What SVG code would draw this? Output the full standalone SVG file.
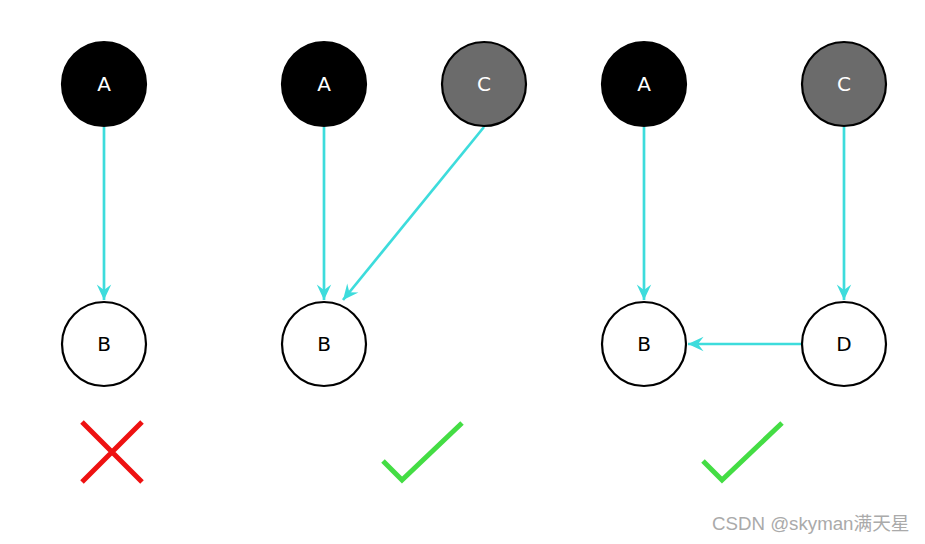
<svg xmlns="http://www.w3.org/2000/svg" width="925" height="544" viewBox="0 0 925 544">
<style>
.node circle{stroke:#000;stroke-width:2.2}
.w circle{fill:#fff}
.k circle{fill:#000}
.g circle{fill:#6b6b6b}
.node text{font-family:"DejaVu Sans",sans-serif;font-size:20px;text-anchor:middle;dominant-baseline:central}
.w text{fill:#000}
.k text,.g text{fill:#fff}
.edge{stroke:#3ddcdc;stroke-width:2.7;fill:none}
.cross{stroke:#ee1111;stroke-width:5;fill:none}
.check{stroke:#44dd44;stroke-width:5;fill:none}
</style>
<defs>
<marker id="arr" markerUnits="userSpaceOnUse" markerWidth="20" markerHeight="20" viewBox="-16 -8 18 16" refX="0" refY="0" orient="auto">
<path d="M0,0 L-14,-6.5 L-9,0 L-14,6.5 Z" fill="#3ddcdc"/>
</marker>
</defs>
<rect width="925" height="544" fill="#fff"/>
<g id="connectors">
<line class="edge" x1="104" y1="127" x2="104" y2="300" marker-end="url(#arr)"/>
<line class="edge" x1="324" y1="127" x2="324" y2="300" marker-end="url(#arr)"/>
<line class="edge" x1="484" y1="127" x2="343" y2="300" marker-end="url(#arr)"/>
<line class="edge" x1="644" y1="127" x2="644" y2="300" marker-end="url(#arr)"/>
<line class="edge" x1="844" y1="127" x2="844" y2="300" marker-end="url(#arr)"/>
<line class="edge" x1="801" y1="344" x2="688" y2="344" marker-end="url(#arr)"/>
</g>
<g id="g1A" class="node k"><circle cx="104" cy="84" r="42"/><text x="104" y="84">A</text></g>
<g id="g1B" class="node w"><circle cx="104" cy="344" r="42"/><text x="104" y="344">B</text></g>
<g id="g2A" class="node k"><circle cx="324" cy="84" r="42"/><text x="324" y="84">A</text></g>
<g id="g2C" class="node g"><circle cx="484" cy="84" r="42"/><text x="484" y="84">C</text></g>
<g id="g2B" class="node w"><circle cx="324" cy="344" r="42"/><text x="324" y="344">B</text></g>
<g id="g3A" class="node k"><circle cx="644" cy="84" r="42"/><text x="644" y="84">A</text></g>
<g id="g3C" class="node g"><circle cx="844" cy="84" r="42"/><text x="844" y="84">C</text></g>
<g id="g3B" class="node w"><circle cx="644" cy="344" r="42"/><text x="644" y="344">B</text></g>
<g id="g3D" class="node w"><circle cx="844" cy="344" r="42"/><text x="844" y="344">D</text></g>
<g id="marks">
<path class="cross" d="M82,422 L142,482 M82,482 L142,422"/>
<path class="check" d="M383,461 L402,480 L462,423"/>
<path class="check" d="M703,461 L722,480 L782,423"/>
</g>
<text x="712" y="530" font-family="'Liberation Sans','Noto Sans CJK SC',sans-serif" font-size="18.7" fill="#aaaaaa">CSDN @skyman满天星</text>
</svg>
